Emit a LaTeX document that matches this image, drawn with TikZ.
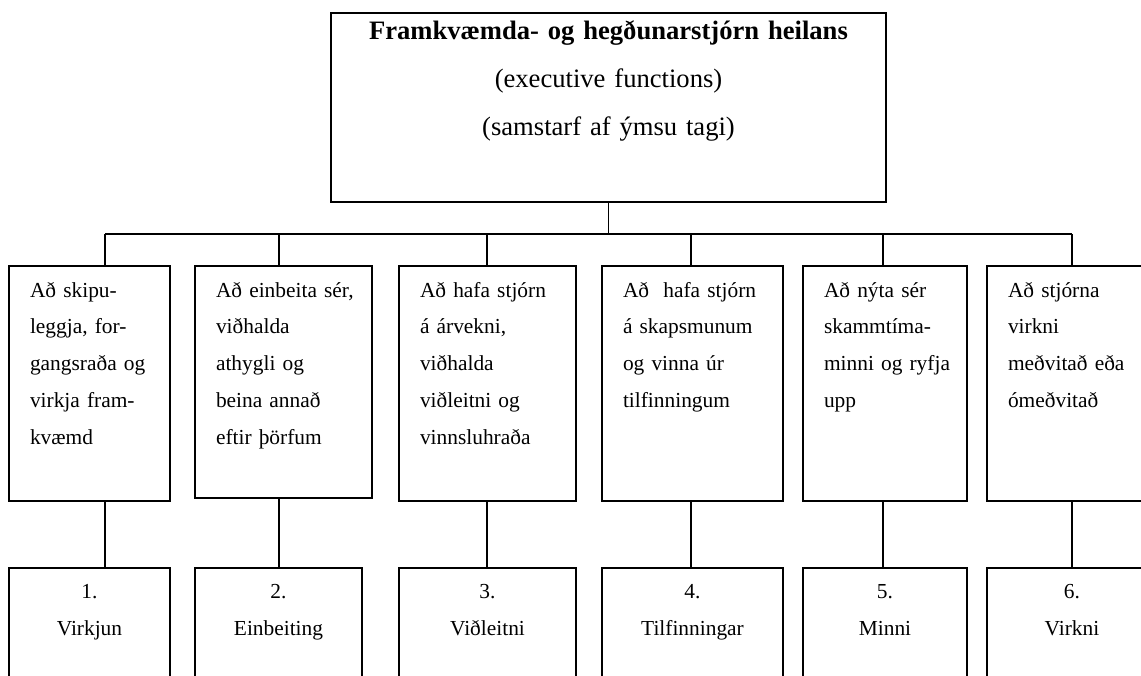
\documentclass[tikz,border=0pt]{standalone}
\usepackage{fontspec}
\setmainfont{Liberation Serif}
\usetikzlibrary{positioning}
\tikzstyle{topbox} = [ rectangle, draw, anchor=north west, align=center, text width=277.5pt, inner sep=0pt, outer sep=0pt, text height=13pt, text depth=81.5pt, font=\fontsize{13.3}{24}\selectfont ]
\tikzstyle{upbox} = [ rectangle, draw, anchor=north west, align=left, inner xsep=10.5pt, inner ysep=0pt, outer sep=0pt, text height=15.5pt, text depth=102pt, font=\fontsize{10.7}{18.4}\selectfont ]
\tikzstyle{numbox} = [ rectangle, draw, align=center, inner sep=0pt, outer sep=0pt, text height=15pt, text depth=60pt, font=\fontsize{10.7}{18.5}\selectfont ]
\tikzstyle{line} = [ draw ]

\begin{document}
\begin{tikzpicture}[x=0.5pt, y=-0.5pt, thick]
\useasboundingbox (0,0) rectangle (1141,675);
\clip (0,0) rectangle (1141,675);

% Top box
\node [topbox] (brain) at (331,13) {\textbf{Framkvæmda- og hegðunarstjórn heilans}\\(executive functions)\\(samstarf af ýmsu tagi)};

% Functions
\node [upbox, text width=59.5pt] (planning) at (9,266) {Að skipu-\\leggja, for-\\\mbox{gangsraða og}\\virkja fram-\\kvæmd};
\node [upbox, text width=67.5pt, text depth=100.5pt] (attention) at (195,266) {\mbox{Að einbeita sér,}\\viðhalda\\athygli og\\beina annað\\eftir þörfum};
\node [upbox, text width=67.5pt] (alertness) at (399,266) {\mbox{Að hafa stjórn}\\á árvekni,\\viðhalda\\viðleitni og\\vinnsluhraða};
\node [upbox, text width=69.5pt] (temper) at (602,266) {\mbox{Að~ hafa stjórn}\\\mbox{á skapsmunum}\\og vinna úr\\tilfinningum};
\node [upbox, text width=61pt] (memory) at (803,266) {Að nýta sér\\skammtíma-\\\mbox{minni og ryfja}\\upp};
\node [upbox, text width=64pt] (control) at (987,266) {Að stjórna\\virkni\\\mbox{meðvitað eða}\\ómeðvitað};

% Numbered areas
\node [numbox, text width=80.5pt, below=33.5pt of planning.south west, anchor=north west] (activation) {1.\\Virkjun};
\node [numbox, text width=83.5pt, below=35pt of attention.south west, anchor=north west] (focus) {2.\\Einbeiting};
\node [numbox, text width=88.5pt, below=33.5pt of alertness.south west, anchor=north west] (effort) {3.\\Viðleitni};
\node [numbox, text width=90.5pt, below=33.5pt of temper.south west, anchor=north west] (emotion) {4.\\Tilfinningar};
\node [numbox, text width=82pt, below=33.5pt of memory.south west, anchor=north west] (recall) {5.\\Minni};
\node [numbox, text width=85pt, below=33.5pt of control.south west, anchor=north west] (action) {6.\\Virkni};

\coordinate (bus1) at (105,234);
\coordinate (bus2) at (279,234);
\coordinate (bus3) at (487,234);
\coordinate (bus4) at (691,234);
\coordinate (bus5) at (883,234);
\coordinate (bus6) at (1072,234);

\path [line] (brain.south) -- (brain.south |- bus1);
\path [line] (bus1) -- (bus6);
\path [line] (bus1) -- (bus1 |- planning.north);
\path [line] (bus2) -- (bus2 |- attention.north);
\path [line] (bus3) -- (bus3 |- alertness.north);
\path [line] (bus4) -- (bus4 |- temper.north);
\path [line] (bus5) -- (bus5 |- memory.north);
\path [line] (bus6) -- (bus6 |- control.north);
\path [line] (bus1 |- planning.south) -- (bus1 |- activation.north);
\path [line] (bus2 |- attention.south) -- (bus2 |- focus.north);
\path [line] (bus3 |- alertness.south) -- (bus3 |- effort.north);
\path [line] (bus4 |- temper.south) -- (bus4 |- emotion.north);
\path [line] (bus5 |- memory.south) -- (bus5 |- recall.north);
\path [line] (bus6 |- control.south) -- (bus6 |- action.north);
\end{tikzpicture}
\end{document}
